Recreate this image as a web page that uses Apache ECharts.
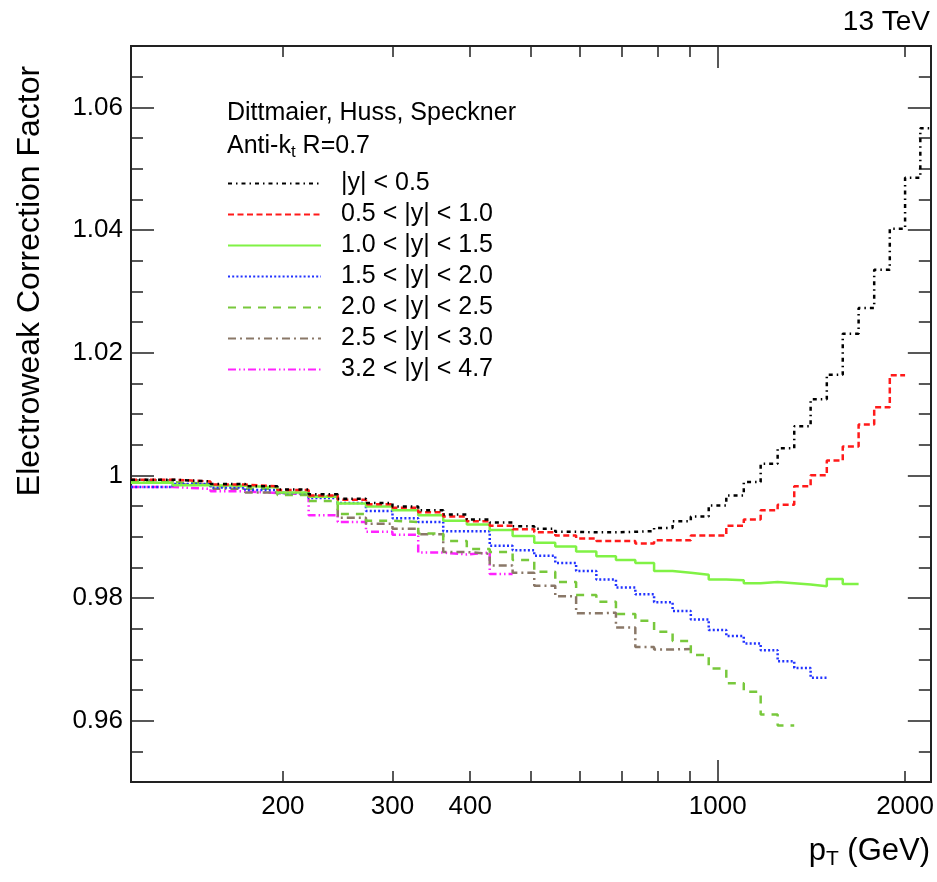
<!DOCTYPE html>
<html>
<head>
<meta charset="utf-8">
<script src="https://cdn.jsdelivr.net/npm/echarts@6/dist/echarts.min.js"></script>
<style>html,body{margin:0;padding:0;background:#fff}#c{width:937px;height:882px}</style>
</head>
<body>
<div id="c"></div>
<script>
// Bin edges in pT (GeV)
const xEdges = [114,133,153,174,196,220,245,272,300,330,362,395,430,468,507,548,592,638,686,737,790,846,905,967,1032,1101,1172,1248,1327,1410,1497,1588,1684,1784,1890,2000,2116,2238];

const seriesNames = ['|y| < 0.5','0.5 < |y| < 1.0','1.0 < |y| < 1.5','1.5 < |y| < 2.0','2.0 < |y| < 2.5','2.5 < |y| < 3.0','3.2 < |y| < 4.7'];

const y00_05 = [0.9993,0.9990,0.9986,0.9982,0.9977,0.9969,0.9962,0.9955,0.9949,0.9943,0.9936,0.9928,0.9923,0.9917,0.9913,0.9908,0.9907,0.9907,0.9908,0.9909,0.9914,0.9925,0.9933,0.9951,0.9967,0.9989,1.0019,1.0044,1.0080,1.0124,1.0164,1.0231,1.0273,1.0335,1.0402,1.0485,1.0566];
const y05_10 = [0.9993,0.9990,0.9985,0.9982,0.9976,0.9967,0.9960,0.9953,0.9947,0.9940,0.9933,0.9925,0.9918,0.9912,0.9907,0.9902,0.9897,0.9893,0.9893,0.9889,0.9894,0.9894,0.9902,0.9902,0.9918,0.9928,0.9943,0.9952,0.9982,1.0000,1.0024,1.0047,1.0083,1.0111,1.0163];
const y10_15 = [0.9988,0.9984,0.9983,0.9980,0.9972,0.9965,0.9954,0.9949,0.9943,0.9935,0.9926,0.9920,0.9911,0.9901,0.9890,0.9884,0.9876,0.9868,0.9862,0.9857,0.9844,0.9841,0.9838,0.9830,0.9829,0.9824,0.9826,0.9824,0.9822,0.9819,0.9831,0.9823];
const y15_20 = [0.9981,0.9986,0.9980,0.9976,0.9971,0.9963,0.9955,0.9942,0.9930,0.9924,0.9909,0.9909,0.9885,0.9878,0.9869,0.9857,0.9844,0.9830,0.9817,0.9806,0.9793,0.9779,0.9765,0.9748,0.9738,0.9726,0.9715,0.9697,0.9686,0.9670];
const y20_25 = [0.9989,0.9986,0.9982,0.9978,0.9968,0.9958,0.9937,0.9926,0.9924,0.9905,0.9893,0.9880,0.9875,0.9862,0.9843,0.9826,0.9805,0.9794,0.9774,0.9763,0.9745,0.9730,0.9707,0.9685,0.9661,0.9647,0.9610,0.9592];
const y25_30 = [0.9992,0.9985,0.9978,0.9972,0.9970,0.9966,0.9931,0.9921,0.9913,0.9904,0.9875,0.9872,0.9853,0.9841,0.9820,0.9803,0.9775,0.9776,0.9752,0.9720,0.9716,0.9717];
const y32_47 = [0.9981,0.9978,0.9974,0.9971,0.9969,0.9935,0.9924,0.9908,0.9903,0.9874,0.9871,0.9874,0.9839];

const xLabelValues = [200,300,400,1000,2000];
const xMinorTicks = [200,300,400,500,600,700,800,900,2000];
const xMajorTicks = [1000];
const yLabelValues = [0.96,0.98,1.00,1.02,1.04,1.06];

const FONT = '"Liberation Sans", Arial, Helvetica, sans-serif';
const AXC = '#222';

function histPoints(vals){
  const pts = vals.map((v,i)=>[xEdges[i], v]);
  pts.push([xEdges[vals.length], vals[vals.length-1]]);
  return pts;
}

const styles = [
  {color:'#000000', type:[4,4,1.5,4]},
  {color:'#ff1a1a', type:[6,3.5]},
  {color:'#80f245', type:'solid'},
  {color:'#2233ff', type:[2,2.2]},
  {color:'#78c83c', type:[8,7]},
  {color:'#8a7868', type:[8,4,2,4]},
  {color:'#ff22ff', type:[8,3,1.5,3,1.5,3]}
];
const allVals = [y00_05,y05_10,y10_15,y15_20,y20_25,y25_30,y32_47];

const series = allVals.map((vals,k)=>({
  name: seriesNames[k],
  type: 'line',
  step: 'end',
  symbol: 'none',
  xAxisIndex: 0,
  yAxisIndex: 0,
  clip: true,
  data: histPoints(vals),
  lineStyle: {color: styles[k].color, width: 2.5, type: styles[k].type},
  itemStyle: {color: styles[k].color},
  z: 10 - k,
  animation: false
}));

const XMIN = 114, XMAX = 2200, YMIN = 0.95, YMAX = 1.07;

function xAx(position, ticks, len, labels){
  return {
    type:'log', logBase:10, min:XMIN, max:XMAX, position: position,
    axisLine:{show:true, onZero:false, lineStyle:{color:AXC, width:2}},
    axisTick:{show:true, inside:true, length:len, customValues:ticks, lineStyle:{color:AXC, width:1.5}},
    axisLabel: labels ? {show:true, customValues:xLabelValues, formatter:(v)=>String(Math.round(v)), fontFamily:FONT, fontSize:26, color:'#000', margin:12} : {show:false},
    splitLine:{show:false}, minorTick:{show:false}
  };
}
function yAx(position, ticksOpt, len, labels){
  const o = {
    type:'value', min:YMIN, max:YMAX, position: position,
    axisLine:{show:true, onZero:false, lineStyle:{color:AXC, width:2}},
    axisTick:Object.assign({show:true, inside:true, length:len, lineStyle:{color:AXC, width:1.5}}, ticksOpt.custom ? {customValues: ticksOpt.custom} : {}),
    axisLabel: labels ? {show:true, customValues:yLabelValues, formatter:(v)=> Math.abs(v-1)<1e-9 ? '1' : v.toFixed(2), fontFamily:FONT, fontSize:26, color:'#000', margin:8} : {show:false},
    splitLine:{show:false}
  };
  if (ticksOpt.interval) o.interval = ticksOpt.interval;
  return o;
}

const option = {
  backgroundColor:'#fff',
  animation:false,
  grid:{left:131, right:6, top:46, bottom:100, containLabel:false},
  xAxis:[
    xAx('bottom', xMinorTicks, 11, true),
    xAx('bottom', xMajorTicks, 22, false),
    xAx('top', xMinorTicks, 11, false),
    xAx('top', xMajorTicks, 22, false)
  ],
  yAxis:[
    yAx('left', {interval:0.005}, 12, true),
    yAx('left', {custom:yLabelValues}, 23, false),
    yAx('right', {interval:0.005}, 12, false),
    yAx('right', {custom:yLabelValues}, 23, false)
  ],
  legend:{
    orient:'vertical', left:227, top:171, itemWidth:93, itemHeight:14, itemGap:6,
    padding:0,
    itemStyle:{color:'rgba(0,0,0,0)', borderWidth:0, opacity:0},
    textStyle:{fontFamily:FONT, fontSize:25, color:'#000', lineHeight:25, padding:[0,0,0,15]},
    data: seriesNames,
    selectedMode:false
  },
  graphic:[
    {type:'text', x:930, y:22, style:{text:'13 TeV', font:'28px '+FONT, fill:'#000', textAlign:'right', textVerticalAlign:'middle'}},
    {type:'text', x:227, y:113, style:{text:'Dittmaier, Huss, Speckner', font:'25px '+FONT, fill:'#000', textAlign:'left', textVerticalAlign:'middle'}},
    {type:'text', x:227, y:146, style:{text:'{a|Anti-k}{s|t}{a| R=0.7}', textAlign:'left', textVerticalAlign:'middle',
      rich:{a:{fontFamily:FONT, fontSize:25, fill:'#000', color:'#000'}, s:{fontFamily:FONT, fontSize:17, color:'#000', padding:[12,0,0,0]}}}},
    {type:'text', x:30, y:281, rotation:Math.PI/2, style:{text:'Electroweak Correction Factor', font:'32px '+FONT, fill:'#000', textAlign:'center', textVerticalAlign:'middle'}},
    {type:'text', x:930, y:851, style:{text:'{a|p}{s|T}{a| (GeV)}', textAlign:'right', textVerticalAlign:'middle',
      rich:{a:{fontFamily:FONT, fontSize:31, color:'#000'}, s:{fontFamily:FONT, fontSize:21, color:'#000', padding:[16,0,0,0]}}}}
  ],
  series: series
};

const chart = echarts.init(document.getElementById('c'), null, {renderer:'canvas'});
chart.setOption(option);
</script>
</body>
</html>
